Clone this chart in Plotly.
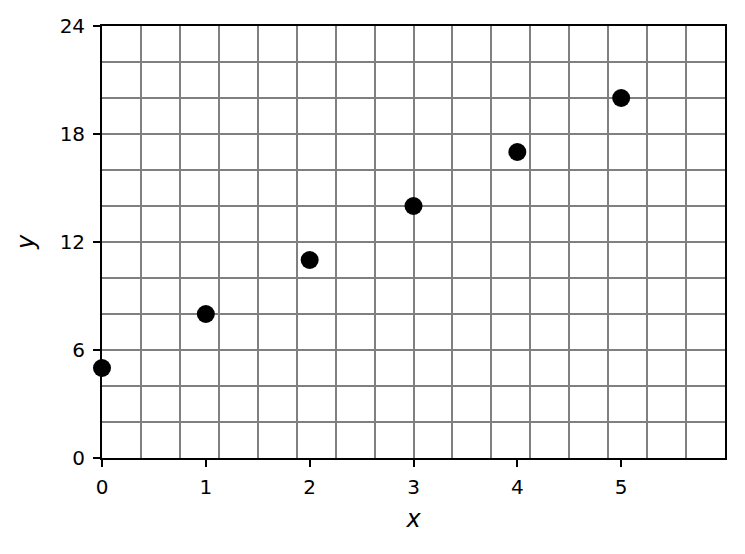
import plotly.graph_objects as go

# data
x_vals = [0, 1, 2, 3, 4, 5]
y_vals = [5, 8, 11, 14, 17, 20]
x_ticks = [0, 1, 2, 3, 4, 5]
y_ticks = [0, 6, 12, 18, 24]

# opaque gray so major+minor lines on the same spot don't look darker
grid_col = '#808080'
font = dict(family='DejaVu Sans', size=20, color='black')

fig = go.Figure()
fig.add_trace(go.Scatter(
    x=x_vals, y=y_vals, mode='markers',
    marker=dict(color='black', size=18),
    cliponaxis=False, showlegend=False,
))
# empty trace so the overlay grid axis gets drawn
fig.add_trace(go.Scatter(x=[None], y=[None], xaxis='x2', showlegend=False))

# page body adds ~8px offset, so margins are shifted to compensate
fig.update_layout(
    width=745, height=554,
    margin=dict(l=94, r=28, t=18, b=104),
    paper_bgcolor='white', plot_bgcolor='white',
    font=font,
    xaxis=dict(
        range=[0, 6], tickvals=x_ticks, showgrid=False, zeroline=False,
        automargin=False,
        ticks='outside', ticklen=7, tickwidth=1.6, tickcolor='black',
        ticklabelstandoff=3,
        showline=True, linecolor='black', linewidth=1.8, mirror=True,
        title=dict(text='<i>x</i>', font=dict(size=24), standoff=12),
    ),
    xaxis2=dict(
        range=[0, 6], overlaying='x', tick0=0, dtick=0.375,
        showgrid=True, gridcolor=grid_col, gridwidth=1.5,
        showticklabels=False, ticks='', zeroline=False,
    ),
    yaxis=dict(
        range=[0, 24], tickvals=y_ticks, zeroline=False,
        automargin=False,
        showgrid=True, gridcolor=grid_col, gridwidth=1.5,
        minor=dict(dtick=2, tick0=0, showgrid=True, gridcolor=grid_col,
                   gridwidth=1.5, ticks=''),
        ticks='outside', ticklen=7, tickwidth=1.6, tickcolor='black',
        ticklabelstandoff=4,
        showline=True, linecolor='black', linewidth=1.8, mirror=True,
        title=dict(text='<i>y</i>', font=dict(size=24), standoff=18),
    ),
)

fig.write_html('out.html')
